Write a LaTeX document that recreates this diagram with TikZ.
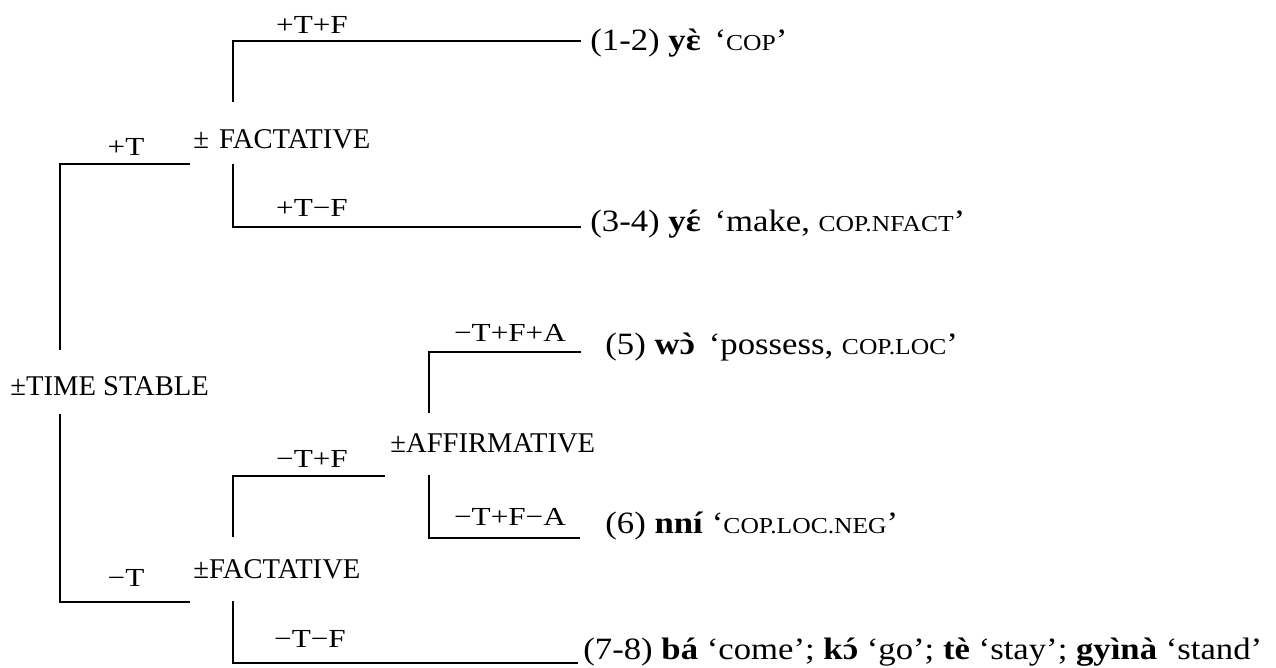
\documentclass[tikz,border=0pt]{standalone}
\usepackage{fontspec}
\setmainfont{Liberation Serif}
\newfontfamily\lblfont[FakeStretch=1.2]{Liberation Serif}
\newfontfamily\leaffont[FakeStretch=1.12]{Liberation Serif}
% small capitals for the glosses
\newcommand\smc[1]{{\fontsize{11.4pt}{12pt}\selectfont #1}}
% tone marks set over a letter
\newcommand\grv[1]{\ooalign{#1\cr\hidewidth\char"60\hidewidth\cr}}
\newcommand\acu[1]{\ooalign{#1\cr\hidewidth\char"B4\hidewidth\cr}}
\begin{document}
\begin{tikzpicture}[x=0.5pt,y=-0.5pt,
  branch/.style={line width=0.85pt},
  feat/.style={inner sep=0pt,anchor=base west,font=\fontsize{14.3pt}{16pt}\selectfont},
  val/.style={inner sep=0pt,anchor=base,font=\lblfont\fontsize{13pt}{16pt}\selectfont},
  leaf/.style={inner sep=0pt,anchor=base west,font=\leaffont\fontsize{15.5pt}{17pt}\selectfont}]
\useasboundingbox (0,0) rectangle (1276,668);

% feature nodes
\node[feat] (ts) at (10,396) {±TIME STABLE};
\node[feat] (fp) at (193,149) {±\hspace{5pt}FACTATIVE};
\node[feat] (fm) at (193,578) {±FACTATIVE};
\node[feat] (af) at (390,452) {±AFFIRMATIVE};

% branch values
\node[val] (vTFp)  at (312,34)  {+T+F};
\node[val] (vT)    at (126,156) {+T};
\node[val] (vTFm)  at (312,217) {+T−F};
\node[val] (vmTF)  at (312,467) {−T+F};
\node[val] (vmT)   at (126,587) {−T};
\node[val] (vmTmF) at (310,647) {−T−F};
\node[val] (vAp)   at (510,342) {−T+F+A};
\node[val] (vAm)   at (510,525) {−T+F−A};

% leaves
\node[leaf] (l12) at (590,51)  {(1-2) \textbf{y\grv{ɛ}}\, ‘\smc{COP}’};
\node[leaf] (l34) at (590,232) {(3-4) \textbf{y\acu{ɛ}}\, ‘make, \smc{COP.NFACT}’};
\node[leaf] (l5)  at (605,355) {(5) \textbf{w\grv{ɔ}}\, ‘possess, \smc{COP.LOC}’};
\node[leaf] (l6)  at (605,533) {(6) \textbf{nní} ‘\smc{COP.LOC.NEG}’};
\node[leaf] (l78) at (583,659) {(7-8) \textbf{bá} ‘come’; \textbf{k\acu{ɔ}} ‘go’; \textbf{tè} ‘stay’; \textbf{gyìnà} ‘stand’};

% branch end points
\coordinate (tsU) at (60,350);  \coordinate (tsD) at (60,414);
\coordinate (fpIn) at (190,164); \coordinate (fmIn) at (190,602);
\coordinate (fpU) at (233,102); \coordinate (fpD) at (233,164);
\coordinate (fmU) at (233,537); \coordinate (fmD) at (233,601);
\coordinate (afIn) at (385,476);
\coordinate (afU) at (429,413); \coordinate (afD) at (429,475);
\coordinate (e12) at (581,41);  \coordinate (e34) at (581,227);
\coordinate (e5)  at (581,352); \coordinate (e6)  at (580,538);
\coordinate (e78) at (578,663);

% branches
\draw[branch] (tsU) |- (fpIn);
\draw[branch] (tsD) |- (fmIn);
\draw[branch] (fpU) |- (e12);
\draw[branch] (fpD) |- (e34);
\draw[branch] (fmU) |- (afIn);
\draw[branch] (fmD) |- (e78);
\draw[branch] (afU) |- (e5);
\draw[branch] (afD) |- (e6);
\end{tikzpicture}
\end{document}
